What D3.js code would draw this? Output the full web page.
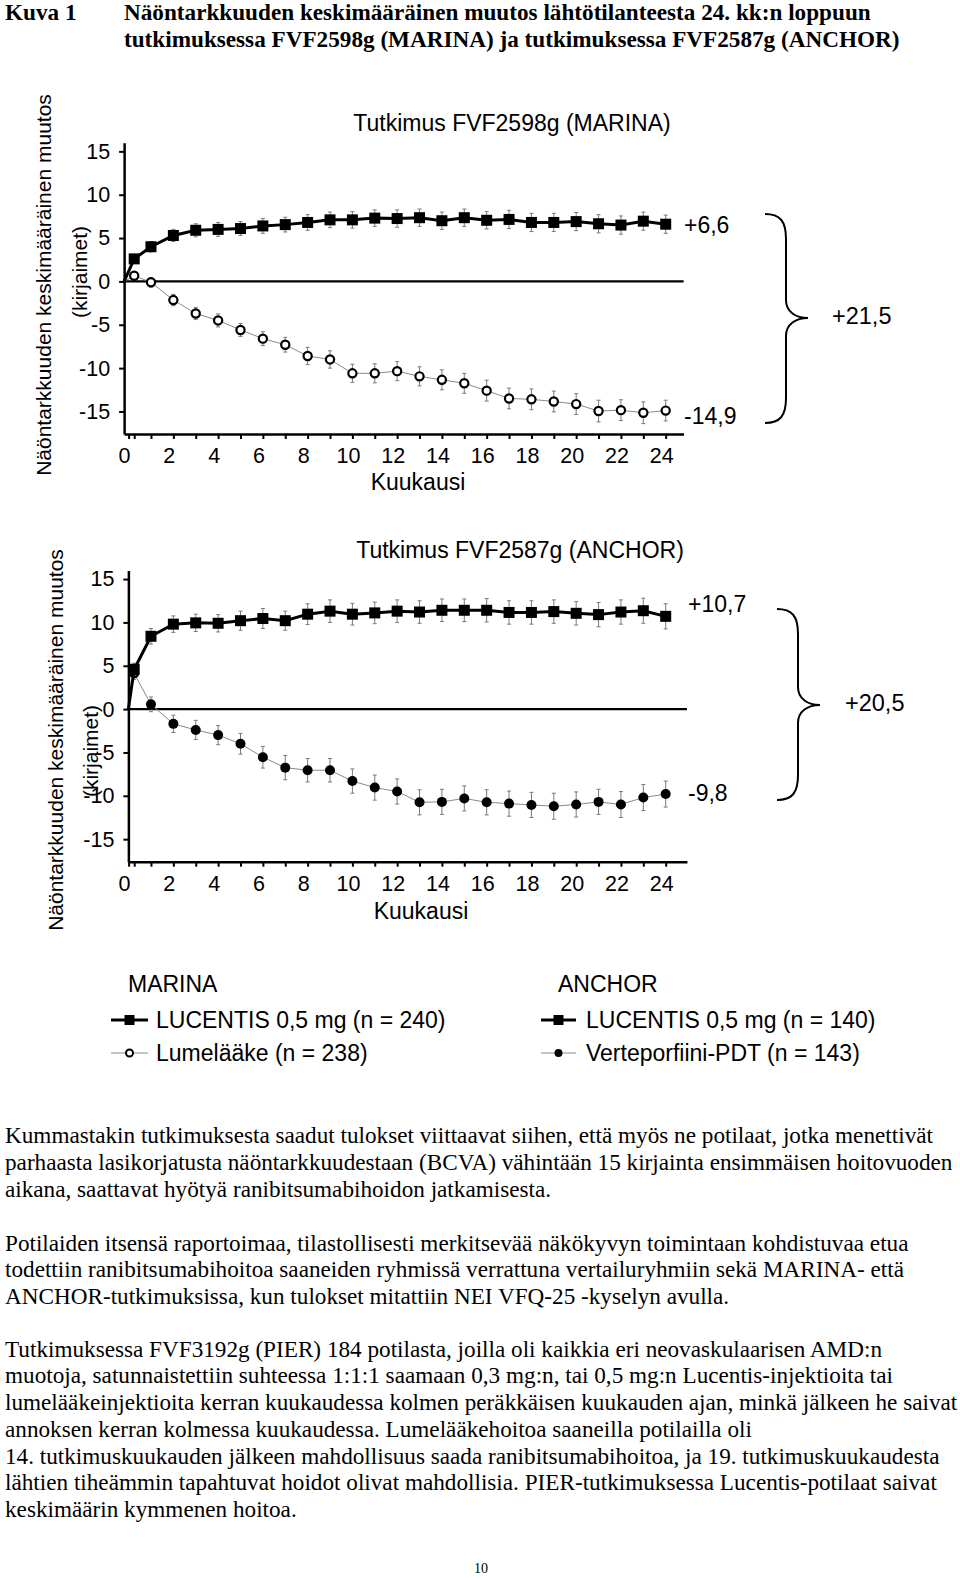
<!DOCTYPE html>
<html><head><meta charset="utf-8">
<script src="https://cdn.jsdelivr.net/npm/d3@7"></script>
<style>
body{margin:0;background:#fff;}
svg text{fill:#000;}
.sans{font-family:"Liberation Sans",Arial,sans-serif;}
.serif{font-family:"Liberation Serif","Times New Roman",serif;}
</style></head>
<body>
<svg id="c" width="960" height="1580"></svg>
<script>
// ---- data ----
const months = [0.25,1,2,3,4,5,6,7,8,9,10,11,12,13,14,15,16,17,18,19,20,21,22,23,24];
const marinaLucentis = [2.6,4.0,5.3,5.9,6.0,6.1,6.4,6.55,6.8,7.1,7.1,7.3,7.25,7.35,7.0,7.35,7.05,7.15,6.8,6.8,6.9,6.65,6.5,6.95,6.6];
const marinaLucentisErr = [0.5,0.6,0.7,0.75,0.8,0.8,0.85,0.85,0.9,0.9,0.95,0.95,1.0,1.0,1.0,1.0,1.0,1.05,1.05,1.05,1.05,1.05,1.05,1.05,1.05];
const marinaSham = [0.65,-0.1,-2.15,-3.7,-4.5,-5.6,-6.6,-7.3,-8.6,-9.0,-10.6,-10.6,-10.35,-10.95,-11.35,-11.75,-12.6,-13.5,-13.6,-13.85,-14.15,-14.95,-14.85,-15.15,-14.9];
const marinaShamErr = [0.5,0.55,0.65,0.7,0.75,0.75,0.8,0.85,1.0,1.0,1.05,1.1,1.1,1.1,1.15,1.15,1.2,1.2,1.2,1.2,1.2,1.25,1.2,1.25,1.2];
const anchorLucentis = [4.6,8.4,9.8,9.95,9.9,10.2,10.45,10.2,10.95,11.3,10.95,11.1,11.3,11.2,11.4,11.4,11.4,11.15,11.15,11.25,11.05,10.9,11.2,11.35,10.7];
const anchorLucentisErr = [0.7,0.9,0.95,1.0,1.0,1.1,1.15,1.1,1.2,1.3,1.25,1.25,1.3,1.3,1.3,1.3,1.35,1.35,1.35,1.35,1.35,1.4,1.4,1.45,1.45];
const anchorPDT = [4.1,0.55,-1.7,-2.4,-3.0,-4.0,-5.55,-6.75,-7.05,-7.05,-8.3,-9.05,-9.5,-10.75,-10.7,-10.3,-10.75,-10.9,-11.05,-11.2,-11.0,-10.7,-11.0,-10.2,-9.8];
const anchorPDTErr = [0.7,0.85,1.0,1.1,1.1,1.2,1.25,1.4,1.35,1.35,1.4,1.45,1.45,1.45,1.45,1.45,1.45,1.45,1.45,1.5,1.45,1.45,1.5,1.5,1.5];
const yTicks = [-15,-10,-5,0,5,10,15];
const xTickLabels = [0,2,4,6,8,10,12,14,16,18,20,22,24];
const xTickMarks = [0,0.25,1,2,3,4,5,6,7,8,9,10,11,12,13,14,15,16,17,18,19,20,21,22,23,24];
const marinaEnd = ["+6,6","-14,9"]; const marinaDiff = "+21,5";
const anchorEnd = ["+10,7","-9,8"]; const anchorDiff = "+20,5";

const svg = d3.select("#c");
const fmt = d => String(d);

// ---- title ----
svg.append("text").attr("class","serif").attr("x",5).attr("y",20).attr("font-size",23.2).attr("font-weight","bold").text("Kuva 1");
svg.append("text").attr("class","serif").attr("x",124).attr("y",20).attr("font-size",23.2).attr("font-weight","bold")
  .text("Näöntarkkuuden keskimääräinen muutos lähtötilanteesta 24. kk:n loppuun");
svg.append("text").attr("class","serif").attr("x",124).attr("y",47).attr("font-size",23.2).attr("font-weight","bold")
  .text("tutkimuksessa FVF2598g (MARINA) ja tutkimuksessa FVF2587g (ANCHOR)");

function panel(cfg){
  const x = d3.scaleLinear().domain([0, 24]).range([128.6, 665.7]);
  const y = d3.scaleLinear().domain([-17.6, 16]).range([cfg.yb, cfg.yt]);
  const g = svg.append("g");
  g.append("text").attr("class","sans").attr("x",cfg.titleX).attr("y",cfg.titleY).attr("font-size",23)
    .attr("text-anchor","middle").attr("dominant-baseline","central").text(cfg.title);
  const ya = g.append("g").attr("transform",`translate(${x(cfg.xStart)},0)`)
    .call(d3.axisLeft(y).tickValues(yTicks).tickSize(5).tickPadding(9).tickSizeOuter(0).tickFormat(fmt));
  ya.select(".domain").attr("stroke-width",2.5);
  ya.selectAll(".tick line").attr("stroke-width",2);
  ya.selectAll("text").attr("class","sans").attr("font-size",21.5);
  const xs = x.copy().domain([cfg.xStart, cfg.xEnd]).range([x(cfg.xStart), x(cfg.xEnd)]);
  const xa = g.append("g").attr("transform",`translate(0,${y(-17.6)})`)
    .call(d3.axisBottom(xs).tickValues(xTickMarks).tickSize(5).tickFormat("").tickSizeOuter(0));
  xa.select(".domain").attr("stroke-width",2.5);
  xa.selectAll(".tick line").attr("stroke-width",2);
  const xl = g.append("g").attr("transform",`translate(-4.5,${y(-17.6)})`)
    .call(d3.axisBottom(x).tickValues(xTickLabels).tickSize(0).tickPadding(14).tickFormat(fmt));
  xl.select(".domain").remove();
  xl.selectAll("text").attr("class","sans").attr("font-size",21.5);
  g.append("text").attr("class","sans").attr("x",cfg.kx).attr("y",cfg.ky).attr("font-size",23)
    .attr("text-anchor","middle").attr("dominant-baseline","central").text("Kuukausi");
  g.append("line").attr("x1",x(cfg.xStart)).attr("x2",x(cfg.xEnd)).attr("y1",y(0)).attr("y2",y(0)).attr("stroke","#000").attr("stroke-width",2.2);
  g.append("text").attr("class","sans").attr("font-size",21).attr("text-anchor","middle").attr("dominant-baseline","central")
    .attr("transform",`translate(${cfg.t1x},${cfg.t1y}) rotate(-90)`).text("Näöntarkkuuden keskimääräinen muutos");
  g.append("text").attr("class","sans").attr("font-size",21).attr("text-anchor","middle").attr("dominant-baseline","central")
    .attr("transform",`translate(${cfg.t2x},${cfg.t2y}) rotate(-90)`).text("(kirjaimet)");

  const mk = (vals) => [{m:cfg.xStart,v:0}].concat(months.map((m,i)=>({m, v:vals[i]})));
  const line = d3.line().x(d=>x(d.m)).y(d=>y(d.v));
  const series = [
    {vals:cfg.b, err:cfg.bErr, bold:false, sym:cfg.bSym},
    {vals:cfg.a, err:cfg.aErr, bold:true, sym:"square"}
  ];
  series.forEach(s=>{
    const pts = months.map((m,i)=>({m, v:s.vals[i], e:s.err[i]}));
    const eb = g.append("g").attr("stroke","#7a7a7a").attr("stroke-width",1);
    pts.forEach(p=>{
      eb.append("line").attr("x1",x(p.m)).attr("x2",x(p.m)).attr("y1",y(p.v-p.e)).attr("y2",y(p.v+p.e));
      eb.append("line").attr("x1",x(p.m)-2).attr("x2",x(p.m)+2).attr("y1",y(p.v-p.e)).attr("y2",y(p.v-p.e));
      eb.append("line").attr("x1",x(p.m)-2).attr("x2",x(p.m)+2).attr("y1",y(p.v+p.e)).attr("y2",y(p.v+p.e));
    });
    g.append("path").datum(mk(s.vals)).attr("d",line).attr("fill","none")
      .attr("stroke", s.bold ? "#000" : "#8a8a8a").attr("stroke-width", s.bold ? 3 : 1);
    if (s.sym==="square"){
      g.selectAll(null).data(pts).enter().append("rect")
        .attr("x",d=>x(d.m)-5.5).attr("y",d=>y(d.v)-5.5).attr("width",11).attr("height",11).attr("fill","#000");
    } else if (s.sym==="open"){
      g.selectAll(null).data(pts).enter().append("circle")
        .attr("cx",d=>x(d.m)).attr("cy",d=>y(d.v)).attr("r",4.1).attr("fill","#fff").attr("stroke","#000").attr("stroke-width",2.2);
    } else {
      g.selectAll(null).data(pts).enter().append("circle")
        .attr("cx",d=>x(d.m)).attr("cy",d=>y(d.v)).attr("r",5).attr("fill","#000");
    }
  });
  g.append("text").attr("class","sans").attr("x",cfg.endX).attr("y",cfg.endY[0]).attr("font-size",23).attr("dominant-baseline","central").text(cfg.endTxt[0]);
  g.append("text").attr("class","sans").attr("x",cfg.endX).attr("y",cfg.endY[1]).attr("font-size",23).attr("dominant-baseline","central").text(cfg.endTxt[1]);
  const b = cfg.brace;
  const p = `M${b.x0},${b.y0} C${b.x0+15},${b.y0} ${b.xv},${b.y0+7} ${b.xv},${b.y0+25} L${b.xv},${b.ym-18} C${b.xv},${b.ym-6} ${b.xt-12},${b.ym} ${b.xt},${b.ym} C${b.xt-12},${b.ym} ${b.xv},${b.ym+6} ${b.xv},${b.ym+18} L${b.xv},${b.y1-25} C${b.xv},${b.y1-7} ${b.x0+15},${b.y1} ${b.x0},${b.y1}`;
  g.append("path").attr("d",p).attr("fill","none").attr("stroke","#000").attr("stroke-width",2);
  g.append("text").attr("class","sans").attr("x",cfg.diffX).attr("y",b.ym-2).attr("font-size",23.5).attr("dominant-baseline","central").text(cfg.diffTxt);
}

panel({yb:434, yt:142.7, xStart:-0.2, xEnd:24.8, title:"Tutkimus FVF2598g (MARINA)", titleX:512, titleY:123,
  kx:418, ky:482, t1x:43, t1y:285, t2x:79, t2y:272,
  a:marinaLucentis, aErr:marinaLucentisErr, b:marinaSham, bErr:marinaShamErr, bSym:"open",
  endX:684, endY:[225,416], endTxt:marinaEnd,
  brace:{x0:765,y0:214,xv:786,xt:808,ym:318,y1:423}, diffX:832, diffTxt:marinaDiff});

panel({yb:861.7, yt:570.4, xStart:-0.01, xEnd:24.95, title:"Tutkimus FVF2587g (ANCHOR)", titleX:520, titleY:550,
  kx:421, ky:911, t1x:55, t1y:740, t2x:90, t2y:751,
  a:anchorLucentis, aErr:anchorLucentisErr, b:anchorPDT, bErr:anchorPDTErr, bSym:"filled",
  endX:688, endY:[604,793], endTxt:anchorEnd,
  brace:{x0:777,y0:609,xv:798,xt:820,ym:705,y1:800}, diffX:845, diffTxt:anchorDiff});

// ---- legend ----
const legendGroups = [
  {title:"MARINA", tx:128, lx:[111,148], textX:156, items:[["LUCENTIS 0,5 mg (n = 240)","square"],["Lumelääke (n = 238)","open"]]},
  {title:"ANCHOR", tx:558, lx:[541,576], textX:586, items:[["LUCENTIS 0,5 mg (n = 140)","square"],["Verteporfiini-PDT (n = 143)","filled"]]}
];
const legendY = [984, 1020, 1053];
legendGroups.forEach(lg=>{
  svg.append("text").attr("class","sans").attr("x",lg.tx).attr("y",legendY[0]).attr("font-size",23).attr("dominant-baseline","central").text(lg.title);
  lg.items.forEach((it,i)=>{
    const yy = legendY[i+1]; const cx=(lg.lx[0]+lg.lx[1])/2;
    const bold = it[1]==="square";
    svg.append("line").attr("x1",lg.lx[0]).attr("x2",lg.lx[1]).attr("y1",yy).attr("y2",yy)
      .attr("stroke", bold?"#000":"#8a8a8a").attr("stroke-width", bold?3:1);
    if (bold) svg.append("rect").attr("x",cx-5).attr("y",yy-5).attr("width",10).attr("height",10).attr("fill","#000");
    else if (it[1]==="open") svg.append("circle").attr("cx",cx).attr("cy",yy).attr("r",3.5).attr("fill","#fff").attr("stroke","#000").attr("stroke-width",2);
    else svg.append("circle").attr("cx",cx).attr("cy",yy).attr("r",4).attr("fill","#000");
    svg.append("text").attr("class","sans").attr("x",lg.textX).attr("y",yy).attr("font-size",23).attr("dominant-baseline","central").text(it[0]);
  });
});

// ---- body text ----
const bodyLines = [
  [1136,"Kummastakin tutkimuksesta saadut tulokset viittaavat siihen, että myös ne potilaat, jotka menettivät"],
  [1162.5,"parhaasta lasikorjatusta näöntarkkuudestaan (BCVA) vähintään 15 kirjainta ensimmäisen hoitovuoden"],
  [1189.5,"aikana, saattavat hyötyä ranibitsumabihoidon jatkamisesta."],
  [1244,"Potilaiden itsensä raportoimaa, tilastollisesti merkitsevää näkökyvyn toimintaan kohdistuvaa etua"],
  [1270,"todettiin ranibitsumabihoitoa saaneiden ryhmissä verrattuna vertailuryhmiin sekä MARINA- että"],
  [1296.5,"ANCHOR-tutkimuksissa, kun tulokset mitattiin NEI VFQ-25 -kyselyn avulla."],
  [1350,"Tutkimuksessa FVF3192g (PIER) 184 potilasta, joilla oli kaikkia eri neovaskulaarisen AMD:n"],
  [1376,"muotoja, satunnaistettiin suhteessa 1:1:1 saamaan 0,3 mg:n, tai 0,5 mg:n Lucentis-injektioita tai"],
  [1403,"lumelääkeinjektioita kerran kuukaudessa kolmen peräkkäisen kuukauden ajan, minkä jälkeen he saivat"],
  [1429.5,"annoksen kerran kolmessa kuukaudessa. Lumelääkehoitoa saaneilla potilailla oli"],
  [1456.5,"14. tutkimuskuukauden jälkeen mahdollisuus saada ranibitsumabihoitoa, ja 19. tutkimuskuukaudesta"],
  [1482.5,"lähtien tiheämmin tapahtuvat hoidot olivat mahdollisia. PIER-tutkimuksessa Lucentis-potilaat saivat"],
  [1510,"keskimäärin kymmenen hoitoa."]
];
bodyLines.forEach(l=>{
  svg.append("text").attr("class","serif").attr("x",5).attr("y",l[0]+7).attr("font-size",23.2).text(l[1]);
});
svg.append("text").attr("class","serif").attr("x",481).attr("y",1573).attr("font-size",14).attr("text-anchor","middle").text("10");
</script>
</body></html>
